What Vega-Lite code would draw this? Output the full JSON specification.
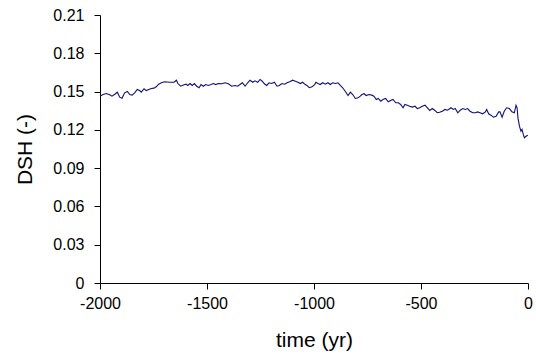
{
  "$schema": "https://vega.github.io/schema/vega-lite/v6.json",
  "autosize": {"type": "none"},
  "padding": {"left": 100, "top": 15, "right": 8, "bottom": 77},
  "width": 428,
  "height": 268,
  "background": "white",
  "config": {
    "view": {"stroke": null},
    "font": "Liberation Sans",
    "axis": {
      "grid": false,
      "domainColor": "black",
      "tickColor": "black",
      "labelColor": "black",
      "titleColor": "black",
      "labelFont": "Liberation Sans",
      "titleFont": "Liberation Sans",
      "labelFontSize": 16,
      "titleFontSize": 21,
      "titleFontWeight": "normal",
      "tickSize": 6,
      "domainWidth": 1,
      "tickWidth": 1
    }
  },
  "data": {
    "values": [
      {"t": -2000, "dsh": 0.1464},
      {"t": -1986, "dsh": 0.1477},
      {"t": -1970, "dsh": 0.1485},
      {"t": -1955, "dsh": 0.1475},
      {"t": -1944, "dsh": 0.1464},
      {"t": -1931, "dsh": 0.1479},
      {"t": -1919, "dsh": 0.1495},
      {"t": -1908, "dsh": 0.1456},
      {"t": -1897, "dsh": 0.1448},
      {"t": -1885, "dsh": 0.149},
      {"t": -1872, "dsh": 0.1501},
      {"t": -1861, "dsh": 0.1477},
      {"t": -1850, "dsh": 0.1472},
      {"t": -1838, "dsh": 0.149},
      {"t": -1826, "dsh": 0.1516},
      {"t": -1815, "dsh": 0.1508},
      {"t": -1807, "dsh": 0.1495},
      {"t": -1794, "dsh": 0.1522},
      {"t": -1784, "dsh": 0.1508},
      {"t": -1772, "dsh": 0.1516},
      {"t": -1760, "dsh": 0.1524},
      {"t": -1748, "dsh": 0.1527},
      {"t": -1737, "dsh": 0.1537},
      {"t": -1726, "dsh": 0.1558},
      {"t": -1713, "dsh": 0.1569},
      {"t": -1698, "dsh": 0.1577},
      {"t": -1674, "dsh": 0.1573},
      {"t": -1654, "dsh": 0.1573},
      {"t": -1643, "dsh": 0.1589},
      {"t": -1636, "dsh": 0.1563},
      {"t": -1623, "dsh": 0.1542},
      {"t": -1607, "dsh": 0.1553},
      {"t": -1598, "dsh": 0.1558},
      {"t": -1590, "dsh": 0.1548},
      {"t": -1579, "dsh": 0.1563},
      {"t": -1569, "dsh": 0.1548},
      {"t": -1559, "dsh": 0.1563},
      {"t": -1548, "dsh": 0.1542},
      {"t": -1537, "dsh": 0.153},
      {"t": -1528, "dsh": 0.1555},
      {"t": -1517, "dsh": 0.1542},
      {"t": -1506, "dsh": 0.1555},
      {"t": -1494, "dsh": 0.1548},
      {"t": -1481, "dsh": 0.1555},
      {"t": -1470, "dsh": 0.1563},
      {"t": -1459, "dsh": 0.1555},
      {"t": -1447, "dsh": 0.1563},
      {"t": -1431, "dsh": 0.1561},
      {"t": -1416, "dsh": 0.1569},
      {"t": -1400, "dsh": 0.1561},
      {"t": -1385, "dsh": 0.1542},
      {"t": -1369, "dsh": 0.1548},
      {"t": -1357, "dsh": 0.1542},
      {"t": -1346, "dsh": 0.1555},
      {"t": -1335, "dsh": 0.1569},
      {"t": -1322, "dsh": 0.1542},
      {"t": -1310, "dsh": 0.1569},
      {"t": -1299, "dsh": 0.1589},
      {"t": -1286, "dsh": 0.1573},
      {"t": -1276, "dsh": 0.1584},
      {"t": -1263, "dsh": 0.1573},
      {"t": -1252, "dsh": 0.1595},
      {"t": -1242, "dsh": 0.1581},
      {"t": -1232, "dsh": 0.1561},
      {"t": -1221, "dsh": 0.1548},
      {"t": -1210, "dsh": 0.1569},
      {"t": -1198, "dsh": 0.1563},
      {"t": -1185, "dsh": 0.1573},
      {"t": -1173, "dsh": 0.1542},
      {"t": -1162, "dsh": 0.1548},
      {"t": -1150, "dsh": 0.1563},
      {"t": -1137, "dsh": 0.1558},
      {"t": -1126, "dsh": 0.1569},
      {"t": -1111, "dsh": 0.1579},
      {"t": -1100, "dsh": 0.1589},
      {"t": -1087, "dsh": 0.1581},
      {"t": -1075, "dsh": 0.1573},
      {"t": -1064, "dsh": 0.1563},
      {"t": -1053, "dsh": 0.1573},
      {"t": -1041, "dsh": 0.1555},
      {"t": -1033, "dsh": 0.1548},
      {"t": -1022, "dsh": 0.153},
      {"t": -1009, "dsh": 0.1537},
      {"t": -997, "dsh": 0.1555},
      {"t": -991, "dsh": 0.1573},
      {"t": -981, "dsh": 0.1563},
      {"t": -971, "dsh": 0.1555},
      {"t": -959, "dsh": 0.1569},
      {"t": -947, "dsh": 0.1558},
      {"t": -935, "dsh": 0.1569},
      {"t": -924, "dsh": 0.1555},
      {"t": -913, "dsh": 0.1569},
      {"t": -900, "dsh": 0.1563},
      {"t": -888, "dsh": 0.1569},
      {"t": -877, "dsh": 0.1548},
      {"t": -866, "dsh": 0.153},
      {"t": -854, "dsh": 0.1503},
      {"t": -841, "dsh": 0.1469},
      {"t": -830, "dsh": 0.1495},
      {"t": -819, "dsh": 0.1477},
      {"t": -807, "dsh": 0.1446},
      {"t": -794, "dsh": 0.1451},
      {"t": -784, "dsh": 0.1464},
      {"t": -776, "dsh": 0.1477},
      {"t": -766, "dsh": 0.1483},
      {"t": -756, "dsh": 0.1469},
      {"t": -743, "dsh": 0.1477},
      {"t": -730, "dsh": 0.1472},
      {"t": -720, "dsh": 0.1464},
      {"t": -709, "dsh": 0.1438},
      {"t": -700, "dsh": 0.1446},
      {"t": -688, "dsh": 0.1425},
      {"t": -678, "dsh": 0.1438},
      {"t": -665, "dsh": 0.1446},
      {"t": -653, "dsh": 0.142},
      {"t": -642, "dsh": 0.143},
      {"t": -631, "dsh": 0.1438},
      {"t": -618, "dsh": 0.1412},
      {"t": -606, "dsh": 0.1412},
      {"t": -595, "dsh": 0.1399},
      {"t": -584, "dsh": 0.1373},
      {"t": -575, "dsh": 0.1399},
      {"t": -564, "dsh": 0.1393},
      {"t": -553, "dsh": 0.1385},
      {"t": -541, "dsh": 0.1378},
      {"t": -528, "dsh": 0.1385},
      {"t": -517, "dsh": 0.1367},
      {"t": -506, "dsh": 0.1373},
      {"t": -494, "dsh": 0.1385},
      {"t": -481, "dsh": 0.1393},
      {"t": -470, "dsh": 0.1373},
      {"t": -459, "dsh": 0.1352},
      {"t": -447, "dsh": 0.1367},
      {"t": -435, "dsh": 0.1352},
      {"t": -424, "dsh": 0.1334},
      {"t": -413, "dsh": 0.1338},
      {"t": -400, "dsh": 0.1346},
      {"t": -388, "dsh": 0.136},
      {"t": -377, "dsh": 0.1354},
      {"t": -371, "dsh": 0.136},
      {"t": -360, "dsh": 0.1373},
      {"t": -349, "dsh": 0.136},
      {"t": -340, "dsh": 0.1367},
      {"t": -328, "dsh": 0.1334},
      {"t": -318, "dsh": 0.1352},
      {"t": -305, "dsh": 0.1367},
      {"t": -293, "dsh": 0.136},
      {"t": -282, "dsh": 0.1367},
      {"t": -271, "dsh": 0.1346},
      {"t": -258, "dsh": 0.1334},
      {"t": -246, "dsh": 0.1334},
      {"t": -235, "dsh": 0.1341},
      {"t": -224, "dsh": 0.1334},
      {"t": -212, "dsh": 0.1326},
      {"t": -199, "dsh": 0.1341},
      {"t": -193, "dsh": 0.136},
      {"t": -184, "dsh": 0.1326},
      {"t": -173, "dsh": 0.1315},
      {"t": -162, "dsh": 0.1299},
      {"t": -149, "dsh": 0.1307},
      {"t": -137, "dsh": 0.1341},
      {"t": -131, "dsh": 0.1341},
      {"t": -121, "dsh": 0.1299},
      {"t": -111, "dsh": 0.1346},
      {"t": -100, "dsh": 0.1373},
      {"t": -87, "dsh": 0.1367},
      {"t": -75, "dsh": 0.1341},
      {"t": -64, "dsh": 0.1334},
      {"t": -56, "dsh": 0.1393},
      {"t": -51, "dsh": 0.1373},
      {"t": -47, "dsh": 0.1294},
      {"t": -40, "dsh": 0.1229},
      {"t": -33, "dsh": 0.119},
      {"t": -28, "dsh": 0.1203},
      {"t": -22, "dsh": 0.1164},
      {"t": -17, "dsh": 0.1138},
      {"t": -9, "dsh": 0.115},
      {"t": -1, "dsh": 0.1158}
    ]
  },
  "mark": {"type": "line", "color": "#10107f", "strokeWidth": 1.1, "interpolate": "linear"},
  "encoding": {
    "x": {
      "field": "t",
      "type": "quantitative",
      "scale": {"domain": [-2000, 0], "nice": false, "zero": false},
      "axis": {
        "title": "time (yr)",
        "values": [-2000, -1500, -1000, -500, 0],
        "labelExpr": "datum.value + ''",
        "labelFlush": false,
        "labelPadding": 6,
        "titleBaseline": "middle",
        "titleY": 57
      }
    },
    "y": {
      "field": "dsh",
      "type": "quantitative",
      "scale": {"domain": [0, 0.21], "nice": false},
      "axis": {
        "title": "DSH (-)",
        "values": [0, 0.03, 0.06, 0.09, 0.12, 0.15, 0.18, 0.21],
        "format": ".2~f",
        "labelPadding": 10,
        "labelFlush": false,
        "titleBaseline": "middle",
        "titleAngle": -90,
        "titleX": -75,
        "titleY": 134
      }
    }
  }
}
